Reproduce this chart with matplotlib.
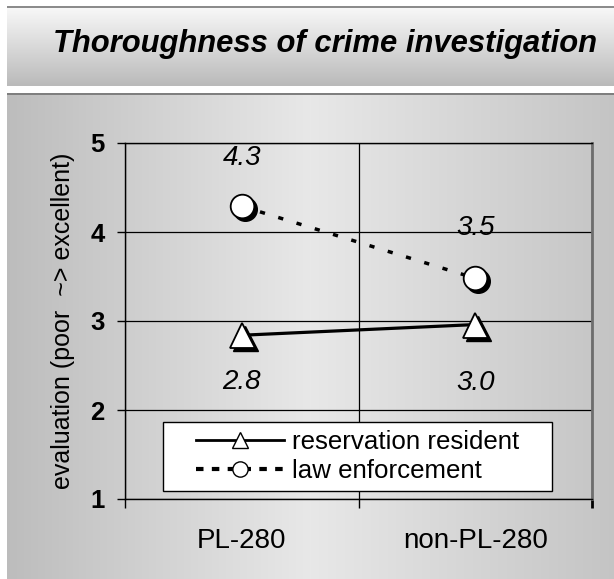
import numpy as np
import matplotlib
matplotlib.use('Agg')
import matplotlib.pyplot as plt
import matplotlib.transforms as mtrans
from matplotlib.lines import Line2D
from matplotlib.patches import Rectangle

plt.rcParams['font.family'] = ['Liberation Sans', 'DejaVu Sans']

# --- data ---
categories   = ['PL-280', 'non-PL-280']
resident     = [2.84, 2.96]
enforcement  = [4.29, 3.48]
resident_lbl = ['2.8', '3.0']
enforce_lbl  = ['4.3', '3.5']
series_names = ['reservation resident', 'law enforcement']
yticks       = [1, 2, 3, 4, 5]

W, H = 614, 579
fig = plt.figure(figsize=(W / 100, H / 100), dpi=100)
fig.patch.set_facecolor('white')

# ---- background: title band + gradient panel ----
img = np.ones((H, W))
img[6:8, 7:] = 0.55
rows = np.linspace(0.97, 0.73, 86 - 8)
img[8:86, 7:] = rows[:, None]
img[93:95, 7:] = 0.50
xs = np.arange(W)
panel = np.where(xs < 310,
                 0.74 + (0.91 - 0.74) * (xs - 7) / (310 - 7),
                 0.91 - (0.91 - 0.77) * (xs - 310) / (W - 310))
img[95:, 7:] = panel[None, 7:]
bg = fig.add_axes([0, 0, 1, 1], zorder=-1)
bg.imshow(np.dstack([img] * 3), aspect='auto', extent=(0, W, H, 0),
          interpolation='nearest')
bg.axis('off')

fig.text(325 / W, 1 - 44 / H, 'Thoroughness of crime investigation',
         ha='center', va='center', fontsize=22.3, fontweight='bold',
         fontstyle='italic')

# ---- main axes ----
ax = fig.add_axes([125 / W, (H - 499) / H, 467 / W, 356 / H])
ax.set_facecolor('none')
ax.set_xlim(0, 2)
ax.set_ylim(1, 5)
xpos = np.arange(len(categories)) + 0.5

shadow = mtrans.offset_copy(ax.transData, fig=fig, x=3, y=-3, units='dots')

ax.plot(xpos, resident, color='black', lw=2.3, zorder=3)
ax.plot(xpos, enforcement, color='black', lw=2.5, dashes=(1.5, 4.0), zorder=3)
ax.plot(xpos, resident, ls='none', marker='^', ms=18, color='black',
        transform=shadow, zorder=4)
ax.plot(xpos, enforcement, ls='none', marker='o', ms=17, color='black',
        transform=shadow, zorder=4)
ax.plot(xpos, resident, ls='none', marker='^', ms=18, mfc='white',
        mec='black', mew=1.3, zorder=5)
ax.plot(xpos, enforcement, ls='none', marker='o', ms=17, mfc='white',
        mec='black', mew=1.3, zorder=5)

for x, v, t, off in zip(xpos, enforcement, enforce_lbl, [35, 36]):
    ax.annotate(t, (x, v), xytext=(0, off), textcoords='offset points',
                ha='center', va='center', fontsize=20, fontstyle='italic')
for x, v, t, off in zip(xpos, resident, resident_lbl, [-34, -42]):
    ax.annotate(t, (x, v), xytext=(0, off), textcoords='offset points',
                ha='center', va='center', fontsize=20, fontstyle='italic')

# grid / spines / ticks
ax.set_axisbelow(True)
ax.set_yticks(yticks)
ax.set_yticklabels([str(t) for t in yticks], fontsize=18.5, fontweight='bold')
ax.grid(axis='y', color='black', lw=0.9)
ax.set_xticks([0, 1, 2])
ax.set_xticklabels([])
ax.grid(axis='x', color='black', lw=0.9)
ax.set_xticks(xpos, minor=True)
ax.set_xticklabels(categories, minor=True, fontsize=20)
ax.tick_params(axis='x', which='minor', length=0, pad=21)
ax.tick_params(axis='x', which='major', direction='out', length=6.5,
               width=1, color='black')
ax.tick_params(axis='y', direction='out', length=5.8, width=1, pad=9)
ax.xaxis.get_major_ticks()[2].tick1line.set_color('#6e6e6e')
ax.xaxis.get_major_ticks()[2].tick1line.set_markeredgewidth(2)
for s in ['left', 'bottom', 'top']:
    ax.spines[s].set_color('black')
    ax.spines[s].set_linewidth(1)
ax.spines['right'].set_color('#6e6e6e')
ax.spines['right'].set_linewidth(2)

ax.set_ylabel('evaluation (poor  ~> excellent)', fontsize=18, va='center')
ax.yaxis.set_label_coords(-0.133, 0.5)

# legend: own white box, legend entries centred in it
box = Rectangle((0.0814, 0.0225), 0.8326, 0.1935, transform=ax.transAxes,
                facecolor='white', edgecolor='black', lw=1, zorder=6)
ax.add_patch(box)
handles = [
    Line2D([], [], color='black', lw=2, marker='^', ms=12, mfc='white',
           mec='black', mew=1),
    Line2D([], [], color='black', lw=3, dashes=(1.8, 2.0), marker='o',
           ms=11, mfc='white', mec='black', mew=1),
]
leg = ax.legend(handles, series_names, loc='center',
                bbox_to_anchor=(0.0814 + 0.8326 / 2, 0.0225 + 0.1935 / 2),
                fontsize=18.6, frameon=False, handlelength=3.4,
                handletextpad=0.3, labelspacing=0.2, borderpad=0,
                borderaxespad=0)
leg.set_zorder(7)

fig.savefig('out.png', dpi=100)
